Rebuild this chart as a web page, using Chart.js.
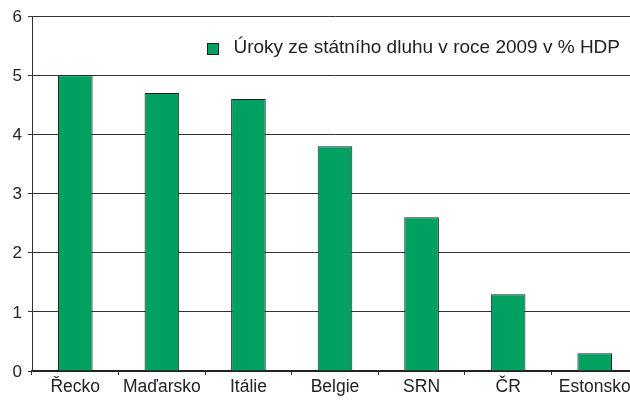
<!DOCTYPE html>
<html>
<head>
<meta charset="utf-8">
<script src="https://cdn.jsdelivr.net/npm/chart.js@4/dist/chart.umd.min.js"></script>
<style>
html,body{margin:0;padding:0;background:#fff;overflow:hidden;width:630px;height:401px;}
canvas{display:block;}
</style>
</head>
<body>
<canvas id="c" width="640" height="401" style="width:640px;height:401px"></canvas>
<script>
const categories = ["Řecko", "Maďarsko", "Itálie", "Belgie", "SRN", "ČR", "Estonsko"];
const values = [5.0, 4.7, 4.6, 3.8, 2.6, 1.3, 0.3];
const seriesName = "Úroky ze státního dluhu v roce 2009 v % HDP";
const yTicks = [0, 1, 2, 3, 4, 5, 6];

const FONT = "'Liberation Sans', Arial, Helvetica, sans-serif";

const insideLegend = {
  id: 'insideLegend',
  afterDraw(chart) {
    const ctx = chart.ctx;
    const area = chart.chartArea;
    const ds = chart.data.datasets[0];
    ctx.save();
    ctx.font = '19px ' + FONT;
    ctx.textBaseline = 'middle';
    ctx.textAlign = 'right';
    const textRight = area.right - 18;
    const cy = area.top + 32;
    const w = ctx.measureText(ds.label).width;
    const textLeft = textRight - w;
    ctx.fillStyle = '#222';
    ctx.fillText(ds.label, textRight, cy);
    const bx = Math.round(textLeft - 26) + 0.5, by = Math.round(cy - 5.5) + 0.5;
    ctx.fillStyle = ds.backgroundColor;
    ctx.fillRect(bx, by, 11, 11);
    ctx.strokeStyle = '#222';
    ctx.lineWidth = 1;
    ctx.strokeRect(bx, by, 11, 11);
    ctx.restore();
  }
};

new Chart(document.getElementById('c'), {
  type: 'bar',
  data: {
    labels: categories,
    datasets: [{
      label: seriesName,
      data: values,
      backgroundColor: '#00a060',
      borderColor: '#222',
      borderWidth: 1,
      barPercentage: 0.4,
      categoryPercentage: 1.0
    }]
  },
  plugins: [insideLegend],
  options: {
    responsive: false,
    animation: false,
    devicePixelRatio: 1,
    layout: { padding: { top: 14, left: 0, right: 2, bottom: 0 } },
    plugins: {
      tooltip: { enabled: false },
      legend: { display: false }
    },
    scales: {
      x: {
        grid: { display: true, drawOnChartArea: false, drawTicks: true, tickLength: 4, color: '#333', offset: true },
        border: { display: true, color: '#222', width: 2 },
        ticks: { font: { family: FONT, size: 17.5 }, color: '#222', padding: 2, maxRotation: 0, autoSkip: false },
        afterFit: (s) => { s.height = 30; }
      },
      y: {
        min: 0, max: 6,
        afterBuildTicks: (s) => { s.ticks = yTicks.map(v => ({ value: v })); },
        grid: { color: '#333', lineWidth: 1, tickLength: 4, drawTicks: true },
        border: { display: true, color: '#333', width: 1 },
        ticks: { font: { family: FONT, size: 17 }, color: '#222', padding: 6, labelOffset: 1 },
        afterFit: (s) => { s.width = 32; }
      }
    }
  }
});
</script>
</body>
</html>
